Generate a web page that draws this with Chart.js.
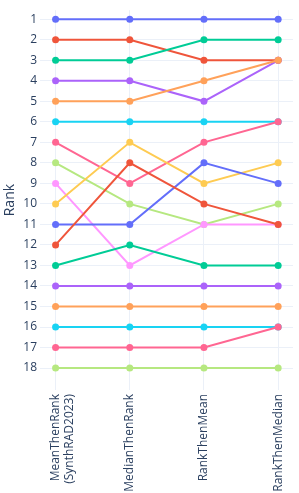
<!DOCTYPE html>
<html><head><meta charset="utf-8">
<script src="https://cdn.jsdelivr.net/npm/chart.js@4/dist/chart.umd.min.js"></script>
<style>html,body{margin:0;padding:0;background:#fff}#wrap{width:299px;height:493px}</style>
</head><body><div id="wrap"><canvas id="c" width="299" height="493"></canvas></div>
<script>
const categories = [["MeanThenRank","(SynthRAD2023)"], "MedianThenRank", "RankThenMean", "RankThenMedian"];
const rankTicks = [1,2,3,4,5,6,7,8,9,10,11,12,13,14,15,16,17,18];
const team01 = [1,1,1,1];
const team02 = [2,2,3,3];
const team03 = [3,3,2,2];
const team04 = [4,4,5,3];
const team05 = [5,5,4,3];
const team06 = [6,6,6,6];
const team07 = [7,9,7,6];
const team08 = [8,10,11,10];
const team09 = [9,13,11,11];
const team10 = [10,7,9,8];
const team11 = [11,11,8,9];
const team12 = [12,8,10,11];
const team13 = [13,12,13,13];
const team14 = [14,14,14,14];
const team15 = [15,15,15,15];
const team16 = [16,16,16,16];
const team17 = [17,17,17,16];
const team18 = [18,18,18,18];
const series = [team01,team02,team03,team04,team05,team06,team07,team08,team09,team10,team11,team12,team13,team14,team15,team16,team17,team18];
const palette = ['#636efa','#EF553B','#00cc96','#ab63fa','#FFA15A','#19d3f3','#FF6692','#B6E880','#FF97FF','#FECB52'];

const datasets = series.map((s,i)=>({
  data: s.map((v,j)=>({x:j,y:v})),
  borderColor: palette[i%10],
  backgroundColor: palette[i%10],
  borderWidth: 2,
  pointRadius: 3.5,
  pointBorderWidth: 0,
  order: series.length - i,
  clip: false
}));

const font = {family:'"Open Sans", sans-serif', size:12};
new Chart(document.getElementById('c'), {
  type:'line',
  data:{datasets},
  options:{
    responsive:false, animation:false,
    layout:{padding:{left:2,right:6,top:0,bottom:0}},
    plugins:{legend:{display:false},tooltip:{enabled:false}},
    scales:{
      x:{type:'linear', min:-0.21, max:3.2,
        afterBuildTicks:(s)=>{s.ticks=[0,1,2,3].map(v=>({value:v}));},
        afterFit:(s)=>{s.height=103;},
        grid:{color:'#EBF0F8', drawTicks:false, lineWidth:1},
        border:{display:false},
        ticks:{font, color:'#2a3f5f', minRotation:90, maxRotation:90, padding:4, autoSkip:false,
          callback:(v)=>categories[v]}
      },
      y:{type:'linear', reverse:true, min:0.56, max:19.07,
        afterBuildTicks:(s)=>{s.ticks=rankTicks.map(v=>({value:v}));},
        afterFit:(s)=>{s.width=38;},
        grid:{color:'#EBF0F8', drawTicks:false, lineWidth:1},
        border:{display:false},
        title:{display:true, text:'Rank', font:{family:'"Open Sans", sans-serif', size:14}, color:'#2a3f5f', padding:0},
        ticks:{font, color:'#2a3f5f', padding:3, autoSkip:false}
      }
    }
  }
});
</script></body></html>
